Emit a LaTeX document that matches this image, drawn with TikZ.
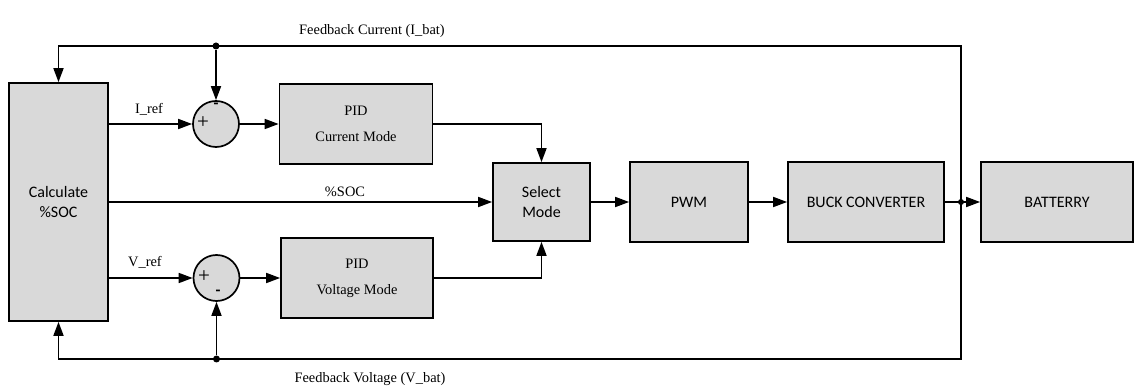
\documentclass[tikz,border=0pt]{standalone}
\usepackage{fontspec}
\setmainfont{Liberation Serif}
\newfontfamily\blockfont{Carlito}
\usetikzlibrary{arrows.meta}
\definecolor{blockfill}{RGB}{217,217,217}

\begin{document}
\begin{tikzpicture}[x=1pt, y=-1pt, line width=1.7pt,
    block/.style={draw=black, fill=blockfill, minimum height=80pt,
      inner sep=0pt, align=center,
      font=\blockfont\fontsize{16}{19.5}\selectfont}, % grey blocks
    pid/.style={block, font=\fontsize{14.4}{26}\selectfont}, % controllers
    sum/.style={draw=black, fill=blockfill, circle, minimum size=46pt,
      inner sep=0pt}, % summing junctions
    plus/.style={inner sep=0pt, font=\fontsize{21}{21}\selectfont},
    minus/.style={inner sep=0pt, font=\blockfont\bfseries\fontsize{16}{16}\selectfont},
    sig/.style={-{Triangle[length=14pt,width=10pt]}}, % signal arrows
    dot/.style={circle, fill=black, minimum size=7pt, inner sep=0pt},
    lbl/.style={inner sep=0pt, font=\fontsize{14.4}{17}\selectfont}]
  \useasboundingbox (0,0) rectangle (1136,387);

  % blocks
  \node[block, minimum width=99pt, minimum height=238pt] (calc) at (58.5,202) {Calculate\\\%SOC};
  \node[sum] (sumI) at (216,124) {};
  \node[sum] (sumV) at (216.5,278) {};
  \node[pid, minimum width=153pt] (pidI) at (356,124) {PID\\Current Mode};
  \node[pid, minimum width=152pt] (pidV) at (357,278) {PID\\Voltage Mode};
  \node[block, minimum width=97pt, minimum height=78pt] (sel) at (541.5,202) {Select\\Mode};
  \node[block, minimum width=118pt] (pwm) at (689,202) {PWM};
  \node[block, minimum width=156pt] (buck) at (866,202) {BUCK CONVERTER};
  \node[block, minimum width=152pt] (bat) at (1057,202) {BATTERRY};

  % signs of the summing junctions
  \node[plus] (plusI) at (203,123) {+};
  \node[minus] (minusI) at (216,106) {-};
  \node[plus] (plusV) at (204,277) {+};
  \node[minus] (minusV) at (218,293) {-};

  % forward path
  \draw[sig] (calc.east |- sumI) -- (sumI);
  \draw[sig] (calc.east |- sumV) -- (sumV);
  \draw[sig] (calc.east |- sel) -- (sel.west);
  \draw[sig] (sumI) -- (pidI.west);
  \draw[sig] (sumV) -- (pidV.west);
  \draw[sig] (pidI.east) -| (sel.north);
  \draw[sig] (pidV.east) -| (sel.south);
  \draw[sig] (sel) -- (pwm);
  \draw[sig] (pwm) -- (buck);
  \draw[sig] (buck) -- (bat);

  % feedback from the battery
  \coordinate (jn) at (961,202);
  \coordinate (fbTop) at (961,46);
  \coordinate (fbBot) at (961,359);
  \draw[sig] (jn) -- (fbTop) -| (calc.north);
  \draw[sig] (jn) -- (fbBot) -| (calc.south);
  \node[dot] (tapI) at (sumI |- fbTop) {};
  \node[dot] (tapV) at (sumV |- fbBot) {};
  \node[dot, minimum size=6pt] (jnDot) at (jn) {};
  \draw[sig] (tapI) -- (sumI);
  \draw[sig] (tapV) -- (sumV);

  % signal names
  \node[lbl] (iref) at (149,109) {I\_ref};
  \node[lbl] (vref) at (145,262) {V\_ref};
  \node[lbl] (soc) at (345,192) {\%SOC};
  \node[lbl] (fbI) at (372,31) {Feedback Current (I\_bat)};
  \node[lbl] (fbV) at (370,379) {Feedback Voltage (V\_bat)};
\end{tikzpicture}
\end{document}
